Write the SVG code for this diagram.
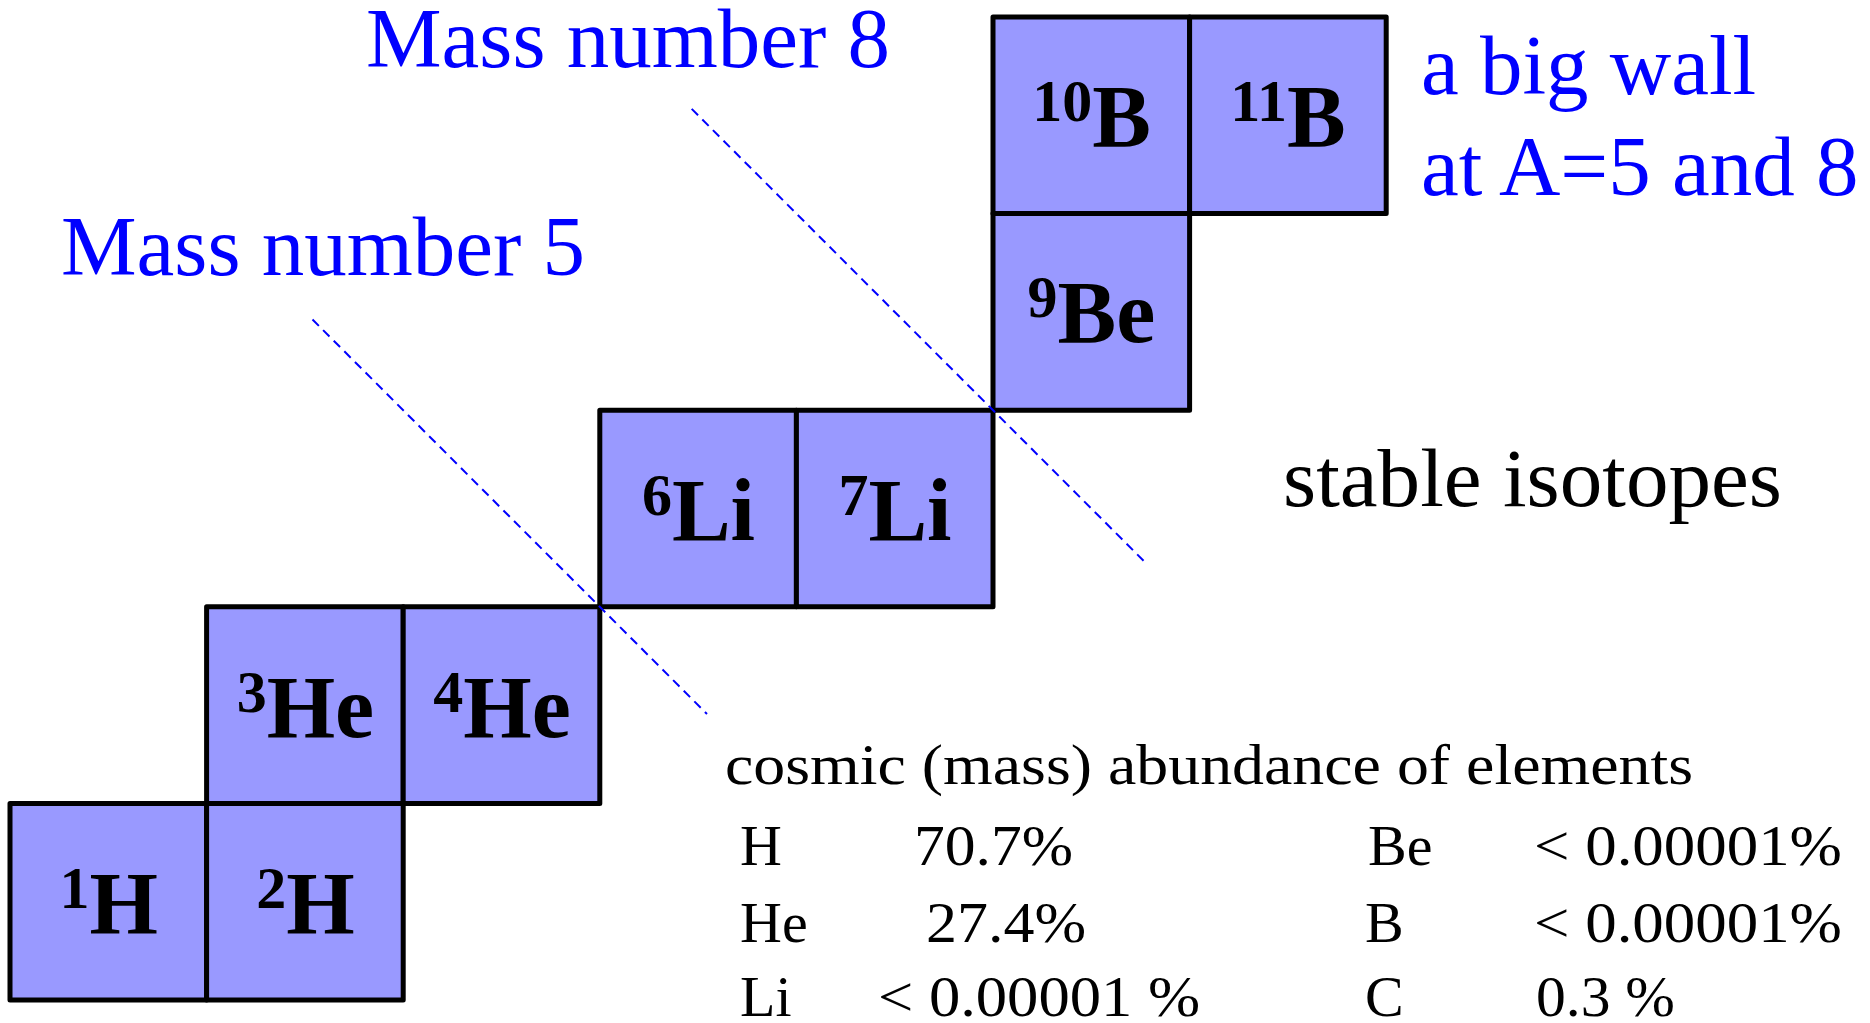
<svg xmlns="http://www.w3.org/2000/svg" width="1870" height="1023" viewBox="0 0 1870 1023">
<style>
.box{fill:#9999FF;stroke:#000;stroke-width:5;stroke-linejoin:round}
.iso{font-family:"Liberation Serif","Times New Roman",serif;font-weight:bold;font-size:88px;fill:#000;text-anchor:middle}
.sup{font-size:60px}
.guide{stroke:#0000FF;stroke-width:2;stroke-dasharray:9 6;fill:none}
.blue{font-family:"Liberation Serif","Times New Roman",serif;font-size:85px;fill:#0000FF}
.note{font-family:"Liberation Serif","Times New Roman",serif;fill:#000}
.tab{font-family:"Liberation Serif","Times New Roman",serif;font-size:58px;fill:#000}
</style>
<rect width="1870" height="1023" fill="#fff"/>
<g id="node-1H"><rect class="box" x="10" y="803.4" width="196.6" height="196.6"/><text class="iso" x="108.8" y="933"><tspan class="sup" dy="-25">1</tspan><tspan dy="25">H</tspan></text></g>
<g id="node-2H"><rect class="box" x="206.6" y="803.4" width="196.6" height="196.6"/><text class="iso" x="305.4" y="933"><tspan class="sup" dy="-25">2</tspan><tspan dy="25">H</tspan></text></g>
<g id="node-3He"><rect class="box" x="206.6" y="606.8" width="196.6" height="196.6"/><text class="iso" x="305.4" y="736.5"><tspan class="sup" dy="-25">3</tspan><tspan dy="25">He</tspan></text></g>
<g id="node-4He"><rect class="box" x="403.2" y="606.8" width="196.6" height="196.6"/><text class="iso" x="502" y="736.5"><tspan class="sup" dy="-25">4</tspan><tspan dy="25">He</tspan></text></g>
<g id="node-6Li"><rect class="box" x="599.8" y="410.2" width="196.6" height="196.6"/><text class="iso" x="698.5" y="540"><tspan class="sup" dy="-25">6</tspan><tspan dy="25">Li</tspan></text></g>
<g id="node-7Li"><rect class="box" x="796.4" y="410.2" width="196.6" height="196.6"/><text class="iso" x="895" y="540"><tspan class="sup" dy="-25">7</tspan><tspan dy="25">Li</tspan></text></g>
<g id="node-9Be"><rect class="box" x="993" y="213.6" width="196.6" height="196.6"/><text class="iso" x="1091.5" y="342"><tspan class="sup" dy="-25">9</tspan><tspan dy="25">Be</tspan></text></g>
<g id="node-10B"><rect class="box" x="993" y="17" width="196.6" height="196.6"/><text class="iso" x="1091.5" y="146"><tspan class="sup" dy="-25">10</tspan><tspan dy="25">B</tspan></text></g>
<g id="node-11B"><rect class="box" x="1189.6" y="17" width="196.6" height="196.6"/><text class="iso" x="1288" y="146"><tspan class="sup" dy="-25">11</tspan><tspan dy="25">B</tspan></text></g>
<g id="connectors">
<line class="guide" x1="312.5" y1="319.5" x2="707" y2="714"/>
<line class="guide" x1="691.7" y1="108.9" x2="1145" y2="562.2"/>
</g>
<g id="labels">
<text class="blue" x="366" y="67">Mass number 8</text>
<text class="blue" x="61" y="275">Mass number 5</text>
<text class="blue" x="1421" y="94">a big wall</text>
<text class="blue" x="1421" y="195">at A=5 and 8</text>
<text class="note" x="1283" y="506" font-size="82" textLength="499" lengthAdjust="spacingAndGlyphs">stable isotopes</text>
</g>
<g id="abundance">
<text class="tab" x="725" y="784" textLength="968" lengthAdjust="spacingAndGlyphs">cosmic (mass) abundance of elements</text>
<text class="tab" x="740" y="865">H</text>
<text class="tab" x="914" y="865" textLength="159" lengthAdjust="spacingAndGlyphs">70.7%</text>
<text class="tab" x="740" y="942">He</text>
<text class="tab" x="926" y="942" textLength="160" lengthAdjust="spacingAndGlyphs">27.4%</text>
<text class="tab" x="740" y="1016">Li</text>
<text class="tab" x="878" y="1016" textLength="322" lengthAdjust="spacingAndGlyphs">&lt; 0.00001 %</text>
<text class="tab" x="1368" y="865">Be</text>
<text class="tab" x="1534" y="865" textLength="308" lengthAdjust="spacingAndGlyphs">&lt; 0.00001%</text>
<text class="tab" x="1365" y="942">B</text>
<text class="tab" x="1534" y="942" textLength="308" lengthAdjust="spacingAndGlyphs">&lt; 0.00001%</text>
<text class="tab" x="1365" y="1016">C</text>
<text class="tab" x="1536" y="1016" textLength="139" lengthAdjust="spacingAndGlyphs">0.3 %</text>
</g>
</svg>
